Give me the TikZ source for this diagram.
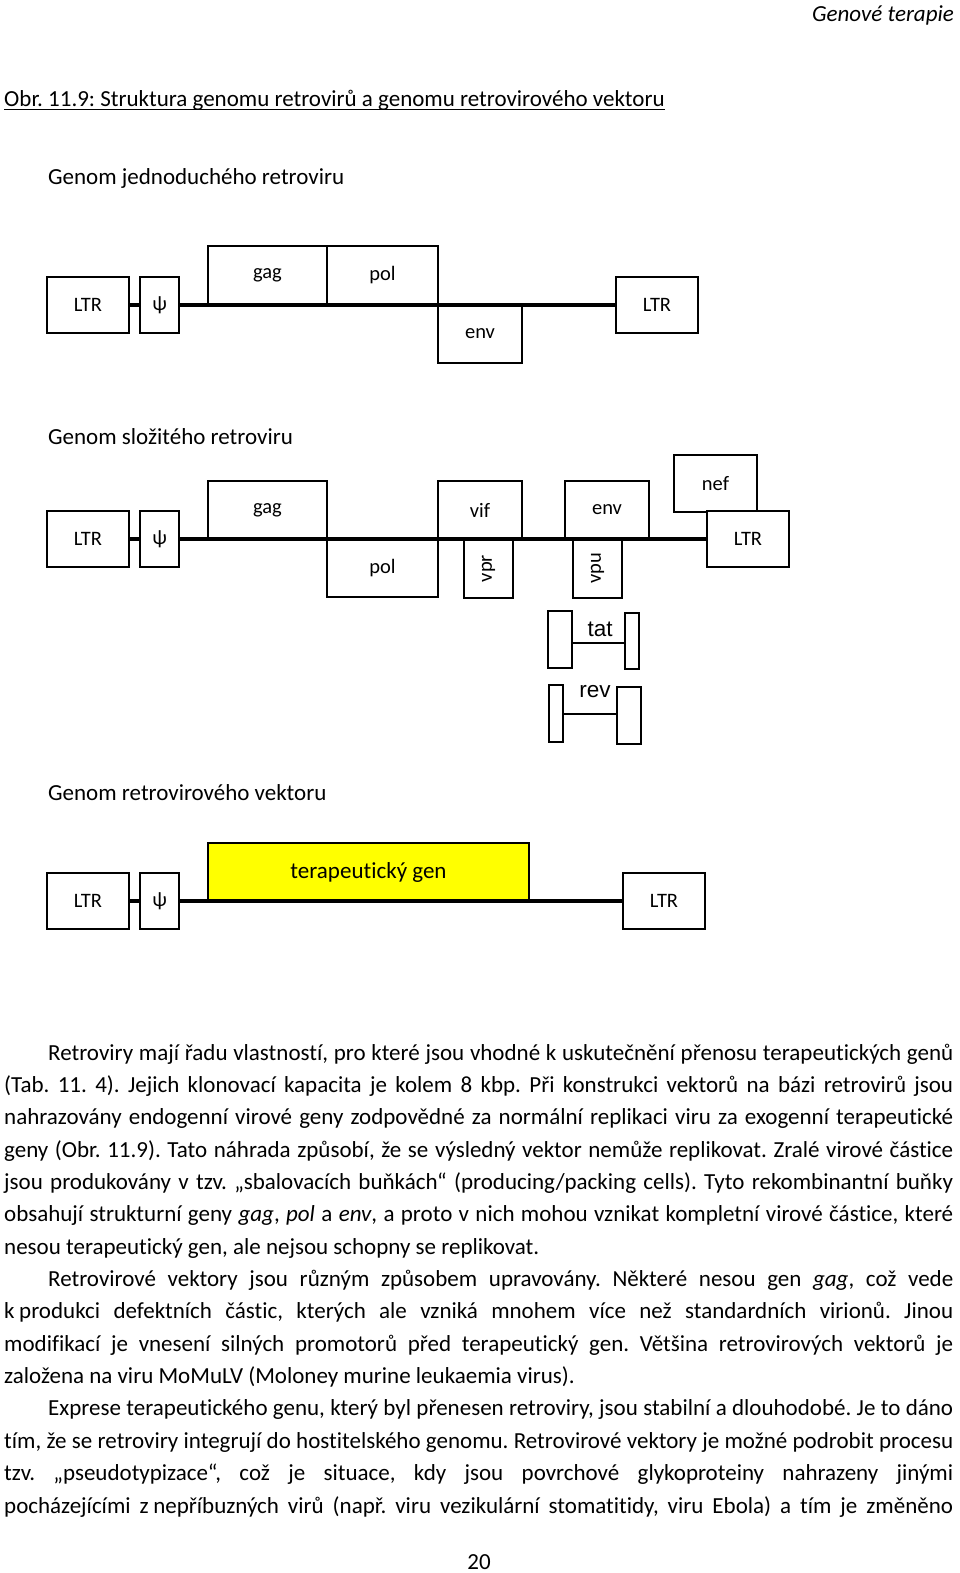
\documentclass[tikz,border=0pt]{standalone}
\usepackage{fontspec}
\setmainfont{Carlito}[Ligatures=NoCommon]
\newfontfamily\arialFont{Liberation Sans}
\frenchspacing

\begin{document}
\begin{tikzpicture}[x=1pt, y=-1pt,
    geneBox/.style={draw=borderColour, fill=white, line width=1.5pt, inner sep=0pt,
        font=\fontsize{20.5}{20.5}\selectfont},
    ltrBox/.style={geneBox, minimum width=82, minimum height=56},
    psiBox/.style={geneBox, minimum width=39, minimum height=56},
    exonBox/.style={draw=borderColour, fill=white, line width=1.5pt, inner sep=0pt},
    backbone/.style={draw=borderColour, line width=4pt},
    splice/.style={draw=borderColour, line width=2pt},
    bodyText/.style={anchor=base west, inner sep=0pt, font=\fontsize{23}{32}\selectfont},
    heading/.style={anchor=base west, inner sep=0pt, font=\fontsize{23}{27}\selectfont}]

    % Define colours
    \definecolor{borderColour}{HTML}{000000}
    \definecolor{geneColour}{HTML}{FFFF00}

    % Page size
    \useasboundingbox (0,0) rectangle (960,1573);

    % Running head and caption
    \node[anchor=base east, inner sep=0pt, font=\fontsize{23}{27}\selectfont\itshape] (runHead) at (954,22) {Genové terapie};
    \node[heading] (figTitle) at (4,107) {Obr. 11.9: Struktura genomu retrovirů a genomu retrovirového vektoru};
    \draw[line width=1pt] ([yshift=-3pt]figTitle.base west) -- ([yshift=-3pt]figTitle.base east);

    % Simple retrovirus
    \node[heading] (simpleHead) at (48,185) {Genom jednoduchého retroviru};
    \node[ltrBox] (ltrA) at (88,305) {LTR};
    \node[psiBox] (psiA) at (159.5,305) {ψ};
    \node[geneBox, minimum width=119, minimum height=59] (gagA) at (267.5,275.5) {gag};
    \node[geneBox, minimum width=111, minimum height=59] (polA) at (382.5,275.5) {pol};
    \node[geneBox, minimum width=84, minimum height=58] (envA) at (480,334) {env};
    \node[ltrBox] (ltrB) at (657,305) {LTR};
    \draw[backbone] (ltrA.east) -- (psiA.west);
    \draw[backbone] (psiA.east) -- (ltrB.west);

    % Complex retrovirus
    \node[heading] (complexHead) at (48,444) {Genom složitého retroviru};
    \node[ltrBox] (ltrC) at (88,539) {LTR};
    \node[psiBox] (psiC) at (159.5,539) {ψ};
    \node[geneBox, minimum width=119, minimum height=58] (gagC) at (267.5,510) {gag};
    \node[geneBox, minimum width=111, minimum height=58] (polC) at (382.5,568) {pol};
    \node[geneBox, minimum width=84, minimum height=58] (vifC) at (480,510) {vif};
    \node[geneBox, minimum width=59, minimum height=49, rotate=90] (vprC) at (488.5,568.5) {vpr};
    \node[geneBox, minimum width=84, minimum height=58] (envC) at (607,510) {env};
    \node[geneBox, minimum width=59, minimum height=49, rotate=90] (vpuC) at (597.5,568.5) {vpu};
    \node[geneBox, minimum width=83, minimum height=57] (nefC) at (715.5,483.5) {nef};
    \node[ltrBox] (ltrD) at (748,539) {LTR};
    \draw[backbone] (ltrC.east) -- (psiC.west);
    \draw[backbone] (psiC.east) -- (ltrD.west);

    % Spliced genes tat and rev
    \node[exonBox, minimum width=24, minimum height=57] (tatL) at (560,639.5) {};
    \node[exonBox, minimum width=14, minimum height=56] (tatR) at (632,641) {};
    \draw[splice] ([yshift=-3pt]tatL.east) -- ([yshift=-3pt]tatL.east -| tatR.west);
    \node[inner sep=0pt, font=\arialFont\fontsize{22.5}{22.5}\selectfont] (tatLabel) at (600,629) {tat};
    \node[exonBox, minimum width=14, minimum height=57] (revL) at (556,713.5) {};
    \node[exonBox, minimum width=24, minimum height=57] (revR) at (629,715.5) {};
    \draw[splice] (revL.east) -- (revL.east -| revR.west);
    \node[inner sep=0pt, font=\arialFont\fontsize{22.5}{22.5}\selectfont] (revLabel) at (595,692) {rev};

    % Retroviral vector
    \node[heading] (vectorHead) at (48,800) {Genom retrovirového vektoru};
    \node[ltrBox] (ltrE) at (88,901) {LTR};
    \node[psiBox] (psiE) at (159.5,901) {ψ};
    \node[geneBox, fill=geneColour, minimum width=321, minimum height=58,
        font=\fontsize{23}{23}\selectfont] (therGene) at (368.5,872) {terapeutický gen};
    \node[ltrBox] (ltrF) at (664,901) {LTR};
    \draw[backbone] (ltrE.east) -- (psiE.west);
    \draw[backbone] (psiE.east) -- (ltrF.west);

    % Body text
    \node[bodyText] (lineA) at (48,1060) {\makebox[905pt][s]{Retroviry mají řadu vlastností, pro které jsou vhodné k uskutečnění přenosu terapeutických genů}};
    \node[bodyText] (lineB) at (4,1092.36) {\makebox[949pt][s]{(Tab. 11. 4). Jejich klonovací kapacita je kolem 8 kbp. Při konstrukci vektorů na bázi retrovirů jsou}};
    \node[bodyText] (lineC) at (4,1124.72) {\makebox[949pt][s]{nahrazovány endogenní virové geny zodpovědné za normální replikaci viru za exogenní terapeutické}};
    \node[bodyText] (lineD) at (4,1157.08) {\makebox[949pt][s]{geny (Obr. 11.9). Tato náhrada způsobí, že se výsledný vektor nemůže replikovat. Zralé virové částice}};
    \node[bodyText] (lineE) at (4,1189.44) {\makebox[949pt][s]{jsou produkovány v tzv. „sbalovacích buňkách“ (producing/packing cells). Tyto rekombinantní buňky}};
    \node[bodyText] (lineF) at (4,1221.8) {\makebox[949pt][s]{obsahují strukturní geny \textit{gag}, \textit{pol} a \textit{env}, a proto v nich mohou vznikat kompletní virové částice, které}};
    \node[bodyText] (lineG) at (4,1254.16) {nesou terapeutický gen, ale nejsou schopny se replikovat.};
    \node[bodyText] (lineH) at (48,1286.52) {\makebox[905pt][s]{Retrovirové vektory jsou různým způsobem upravovány. Některé nesou gen \textit{gag}, což vede}};
    \node[bodyText] (lineI) at (4,1318.88) {\makebox[949pt][s]{k\kern0.2em produkci defektních částic, kterých ale vzniká mnohem více než standardních virionů. Jinou}};
    \node[bodyText] (lineJ) at (4,1351.24) {\makebox[949pt][s]{modifikací je vnesení silných promotorů před terapeutický gen. Většina retrovirových vektorů je}};
    \node[bodyText] (lineK) at (4,1383.6) {založena na viru MoMuLV (Moloney murine leukaemia virus).};
    \node[bodyText] (lineL) at (48,1415.96) {\makebox[905pt][s]{Exprese terapeutického genu, který byl přenesen retroviry, jsou stabilní a dlouhodobé. Je to dáno}};
    \node[bodyText] (lineM) at (4,1448.32) {\makebox[949pt][s]{tím, že se retroviry integrují do hostitelského genomu. Retrovirové vektory je možné podrobit procesu}};
    \node[bodyText] (lineN) at (4,1480.68) {\makebox[949pt][s]{tzv. „pseudotypizace“, což je situace, kdy jsou povrchové glykoproteiny nahrazeny jinými}};
    \node[bodyText] (lineO) at (4,1513.04) {\makebox[949pt][s]{pocházejícími z\kern0.2em nepříbuzných virů (např. viru vezikulární stomatitidy, viru Ebola) a tím je změněno}};

    % Page number
    \node[anchor=base, inner sep=0pt, font=\fontsize{23}{27}\selectfont] (pageNum) at (479,1569) {20};

\end{tikzpicture}
\end{document}
